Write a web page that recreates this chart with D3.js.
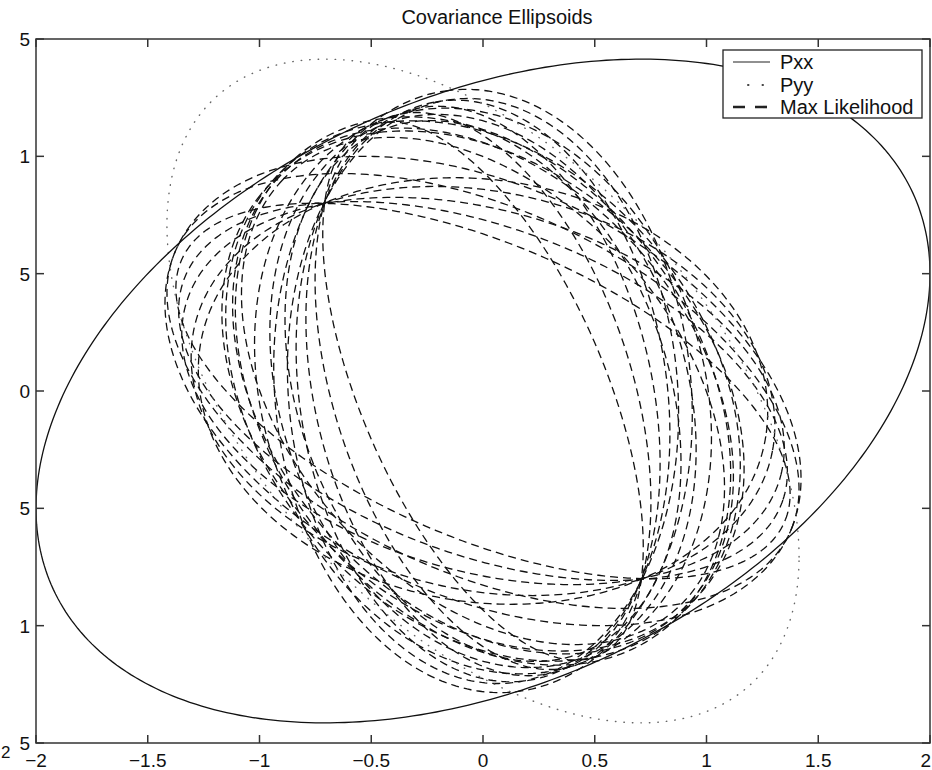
<!DOCTYPE html>
<html><head><meta charset="utf-8"><script src="https://cdn.jsdelivr.net/npm/d3@7"></script>
<style>body{margin:0;background:#fff} text{font-family:"Liberation Sans",Arial,Helvetica,sans-serif;fill:#111}</style></head>
<body>
<svg id="c" width="932" height="770"></svg>
<script>
// ---- data ----
const title="Covariance Ellipsoids";
const xTicks=[-2,-1.5,-1,-0.5,0,0.5,1,1.5,2];
const xTickLabels=["\u22122","\u22121.5","\u22121","\u22120.5","0","0.5","1","1.5","2"];
const yTicks=[1.5,1,0.5,0,-0.5,-1,-1.5];
const yTickLabels=["5","1","5","0","5","1","5"];   // as visible (cropped) in the reference
const legendLabels=["Pxx","Pyy","Max Likelihood"];
// covariance matrices [var x, cov xy, var y]
const Pxx=[4,1,2];
const Pyy=[2,-1,2];
// Max Likelihood ellipses: semi-major, semi-minor, axis angle (deg)
const mlMajor=[1.46,1.42,1.38,1.32,1.28, 1.25,1.25,1.24,1.24,1.24, 1.24,1.22,1.20, 1.30,1.29,1.27,1.30,1.30, 1.50,1.50, 1.29];
const mlMinor=[0.63,0.70,0.77,0.85,0.90, 0.87,0.82,0.75,0.66,0.54, 0.98,0.90,0.82, 0.98,0.92,0.85,0.95,0.95, 0.88,0.78, 0.93];
const mlAngle=[-22,-19,-15,-11,-8, 96,100,105,110,115, 112.5,112.5,112.5, 135,135,135,130,140, -23,-23, 97];

// ---- layout ----
const L=36,R=930,T=39,B=743;
const svg=d3.select("#c");
const x=d3.scaleLinear([-2,2],[L,R]);
const y=d3.scaleLinear([-1.5,1.5],[B,T]);
svg.append("defs").append("clipPath").attr("id","pc").append("rect")
  .attr("x",L).attr("y",T).attr("width",R-L).attr("height",B-T);

const line=d3.line();
function covPts(P){const l11=Math.sqrt(P[0]),l21=P[1]/l11,l22=Math.sqrt(Math.max(P[2]-l21*l21,0));
  return d3.range(0,361,1).map(d=>{const t=d*Math.PI/180;return [x(l11*Math.cos(t)),y(l21*Math.cos(t)+l22*Math.sin(t))];});}
function axPts(a,b,deg){const th=deg*Math.PI/180,c=Math.cos(th),s=Math.sin(th);
  return d3.range(0,361,1).map(d=>{const t=d*Math.PI/180,u=a*Math.cos(t),v=b*Math.sin(t);return [x(u*c-v*s),y(u*s+v*c)];});}

const plot=svg.append("g").attr("clip-path","url(#pc)");
mlMajor.forEach((a,i)=>plot.append("path").attr("d",line(axPts(a,mlMinor[i],mlAngle[i])))
  .attr("fill","none").attr("stroke","#111").attr("stroke-width",1.3).attr("stroke-dasharray","8,5"));
plot.append("path").attr("d",line(covPts(Pyy))).attr("fill","none").attr("stroke","#666")
  .attr("stroke-width",1.4).attr("stroke-linecap","round").attr("stroke-dasharray","0.5,8");
plot.append("path").attr("d",line(covPts(Pxx))).attr("fill","none").attr("stroke","#111").attr("stroke-width",1.3);

// ---- axes box + ticks ----
const ax=svg.append("g").attr("stroke","#333").attr("stroke-width",1.5).attr("fill","none");
ax.append("rect").attr("x",L).attr("y",T).attr("width",R-L).attr("height",B-T);
const tk=8;
xTicks.forEach(v=>{ax.append("line").attr("x1",x(v)).attr("x2",x(v)).attr("y1",B).attr("y2",B-tk);
  ax.append("line").attr("x1",x(v)).attr("x2",x(v)).attr("y1",T).attr("y2",T+tk);});
yTicks.forEach(v=>{ax.append("line").attr("x1",L).attr("x2",L+tk).attr("y1",y(v)).attr("y2",y(v));
  ax.append("line").attr("x1",R).attr("x2",R-tk).attr("y1",y(v)).attr("y2",y(v));});

// tick labels
xTicks.forEach((v,i)=>{const last=i===xTicks.length-1;
  svg.append("text").attr("x",last?931:x(v)).attr("y",767).attr("text-anchor",last?"end":"middle")
  .attr("font-size",19).text(xTickLabels[i]);});
yTicks.forEach((v,i)=>svg.append("text").attr("x",30).attr("y",y(v)+7).attr("text-anchor","end")
  .attr("font-size",19).text(yTickLabels[i]));
svg.append("text").attr("x",1).attr("y",758).attr("text-anchor","start").attr("font-size",17).text("2");

// title
svg.append("text").attr("x",497).attr("y",24).attr("text-anchor","middle").attr("font-size",20).text(title);

// ---- legend ----
const lg=svg.append("g");
lg.append("rect").attr("x",723).attr("y",50).attr("width",199).attr("height",68)
  .attr("fill","#fff").attr("stroke","#222").attr("stroke-width",1.3);
const ly=[62,85,107];
lg.append("line").attr("x1",733).attr("x2",770).attr("y1",ly[0]).attr("y2",ly[0]).attr("stroke","#222").attr("stroke-width",1.2);
lg.append("line").attr("x1",748).attr("x2",770).attr("y1",ly[1]).attr("y2",ly[1]).attr("stroke","#444")
  .attr("stroke-width",2).attr("stroke-linecap","round").attr("stroke-dasharray","0.5,14");
lg.append("line").attr("x1",733).attr("x2",768).attr("y1",ly[2]).attr("y2",ly[2]).attr("stroke","#222")
  .attr("stroke-width",2.6).attr("stroke-dasharray","12,10");
legendLabels.forEach((t,i)=>lg.append("text").attr("x",780).attr("y",ly[i]+7).attr("font-size",20).text(t));
</script></body></html>
